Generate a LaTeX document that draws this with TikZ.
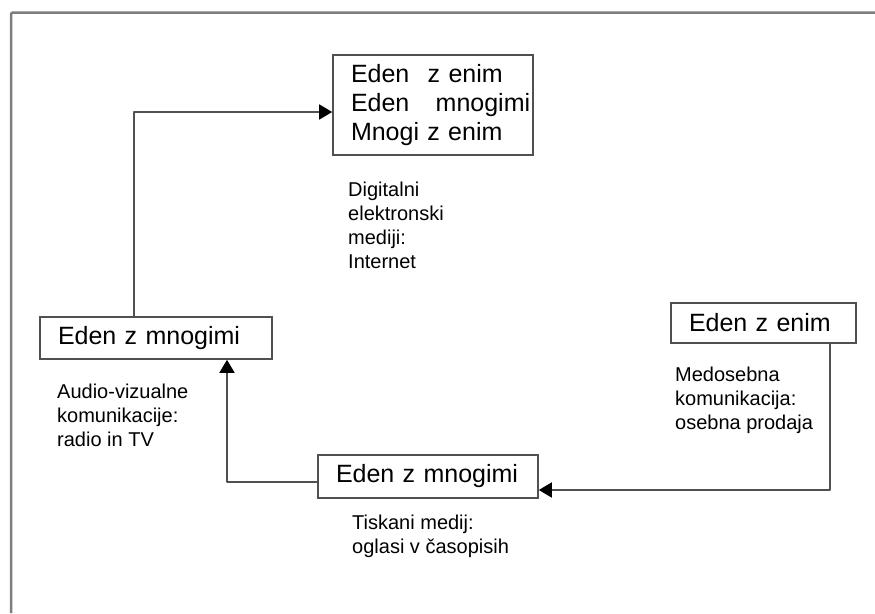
\documentclass[tikz,border=0pt]{standalone}
\usepackage{fontspec}
\setmainfont{Liberation Sans}
\usepackage{tikz}
\usetikzlibrary{arrows.meta}

\definecolor{linegray}{RGB}{80,80,80}
\definecolor{framegray}{RGB}{125,125,125}

\tikzset{
  box/.style={draw=linegray, line width=1.6pt, rectangle, align=left, inner xsep=18pt, inner ysep=0pt, font=\fontsize{25}{29}\selectfont},
  note/.style={anchor=north west, align=left, inner sep=0pt, font=\fontsize{20}{24}\selectfont},
  link/.style={draw=linegray, line width=1.6pt, line join=round, -{Triangle[length=13pt,width=15pt,color=black]}},
  frame/.style={draw=framegray, line width=2.5pt, rounded corners=2pt}
}

\begin{document}
\begin{tikzpicture}[x=1pt, y=-1pt]
    \useasboundingbox (0,0) rectangle (875,613);
    \draw[frame] (11,613) -- (11,12.5) -- (875,12.5);

    \node[box, text width=164pt, minimum height=100pt] (web) at (433,105)
        {Eden\hspace{10pt} z enim\\ \makebox[164pt][l]{Eden\hspace{18pt} mnogimi}\\ Mnogi z enim};
    \node[box, text width=196pt, minimum height=42pt] (tv) at (156,338) {Eden z mnogimi};
    \node[box, text width=149pt, minimum height=40pt] (face) at (763.5,323) {Eden z enim};
    \node[box, text width=184pt, minimum height=43pt] (print) at (428,476.5) {Eden z mnogimi};

    \node[note] (webnote) at (348,182) {Digitalni\\elektronski\\mediji:\\Internet};
    \node[note] (tvnote) at (57,384) {Audio-vizualne\\komunikacije:\\radio in TV};
    \node[note] (facenote) at (675,367) {Medosebna\\komunikacija:\\osebna prodaja};
    \node[note] (printnote) at (352,515) {Tiskani medij:\\oglasi v časopisih};

    \coordinate (tvup) at (134,112);
    \coordinate (facedown) at (830,490);
    \coordinate (printleft) at (227,482);
    \draw[link] (tv.north -| tvup) -- (tvup) -- (tvup -| web.west);
    \draw[link] (face.south -| facedown) -- (facedown) -- (facedown -| print.east);
    \draw[link] (print.west |- printleft) -- (printleft) -- (printleft |- tv.south);
\end{tikzpicture}
\end{document}
